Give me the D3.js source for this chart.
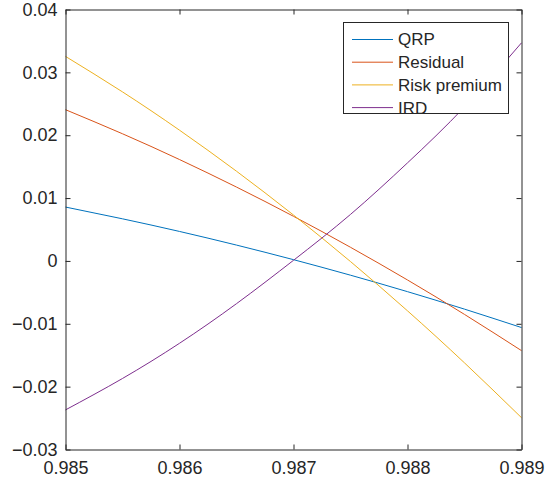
<!DOCTYPE html>
<html>
<head>
<meta charset="utf-8">
<script src="https://cdn.jsdelivr.net/npm/d3@7"></script>
<style>
  html, body { margin: 0; padding: 0; background: #fff; }
  svg text { font-family: "Liberation Sans", Arial, Helvetica, sans-serif; fill: #262626; }
</style>
</head>
<body>
<svg id="chart" width="552" height="484"></svg>
<script>
const xValues = [0.985, 0.9855, 0.986, 0.9865, 0.987, 0.9875, 0.988, 0.9885, 0.989];
const qrp = [0.00857, 0.0067, 0.00469, 0.00252, 0.0002, -0.00227, -0.00489, -0.00767, -0.0106];
const residual = [0.02406, 0.02023, 0.01613, 0.01175, 0.0071, 0.00217, -0.00303, -0.00851, -0.01427];
const riskPremium = [0.03254, 0.02689, 0.0208, 0.01427, 0.0073, -0.0001, -0.00794, -0.01622, -0.02494];
const ird = [-0.0237, -0.0187, -0.0131, -0.0068, 0.0001, 0.0074, 0.0156, 0.0245, 0.0347];
const seriesNames = ["QRP", "Residual", "Risk premium", "IRD"];
const seriesColors = ["#0072BD", "#D95319", "#EDB120", "#7E2F8E"];
const xTicks = [0.985, 0.986, 0.987, 0.988, 0.989];
const yTicks = [-0.03, -0.02, -0.01, 0, 0.01, 0.02, 0.03, 0.04];

const allSeries = [qrp, residual, riskPremium, ird];

const svg = d3.select("#chart");
const pLeft = 65.5, pRight = 521.5, pTop = 9.5, pBottom = 449.5;

const x = d3.scaleLinear().domain([0.985, 0.989]).range([pLeft, pRight]);
const y = d3.scaleLinear().domain([-0.03, 0.04]).range([pBottom, pTop]);

const axisColor = "#262626";
const fmtY = v => v === 0 ? "0" : d3.format(".2f")(v);
const fmtX = d3.format(".3f");

const line = d3.line()
  .x((d, i) => x(xValues[i]))
  .y(d => y(d))
  .curve(d3.curveNatural);

const g = svg.append("g");
allSeries.forEach((s, k) => {
  g.append("path")
    .datum(s)
    .attr("d", line)
    .attr("fill", "none")
    .attr("stroke", seriesColors[k])
    .attr("stroke-width", 1);
});

const tickLen = 5;
const axisB = d3.axisBottom(x).tickValues(xTicks).tickFormat(fmtX).tickSizeInner(-tickLen).tickSizeOuter(0).tickPadding(12);
const axisL = d3.axisLeft(y).tickValues(yTicks).tickFormat(fmtY).tickSizeInner(-tickLen).tickSizeOuter(0).tickPadding(8);
const axisT = d3.axisTop(x).tickValues(xTicks).tickFormat("").tickSizeInner(-tickLen).tickSizeOuter(0);
const axisR = d3.axisRight(y).tickValues(yTicks).tickFormat("").tickSizeInner(-tickLen).tickSizeOuter(0);

function styleAxis(sel) {
  sel.select(".domain").attr("stroke", axisColor).attr("stroke-width", 1);
  sel.selectAll(".tick line").attr("stroke", axisColor).attr("stroke-width", 1);
  sel.selectAll(".tick text").attr("fill", axisColor).style("font-size", "18px")
    .style("font-family", "'Liberation Sans', Arial, Helvetica, sans-serif");
}

svg.append("g").attr("transform", `translate(0,${pBottom})`).call(axisB).call(styleAxis);
svg.append("g").attr("transform", `translate(${pLeft},0)`).call(axisL).call(styleAxis);
svg.append("g").attr("transform", `translate(0,${pTop})`).call(axisT).call(styleAxis);
svg.append("g").attr("transform", `translate(${pRight},0)`).call(axisR).call(styleAxis);

const lg = svg.append("g");
const lx = 343.5, ly = 22.5, lw = 165, lh = 91;
lg.append("rect").attr("x", lx).attr("y", ly).attr("width", lw).attr("height", lh)
  .attr("fill", "#fff").attr("stroke", axisColor).attr("stroke-width", 1);
seriesNames.forEach((name, k) => {
  const cy = 39.5 + k * 22.7;
  lg.append("line").attr("x1", 352).attr("x2", 393).attr("y1", cy).attr("y2", cy)
    .attr("stroke", seriesColors[k]).attr("stroke-width", 1);
  lg.append("text").attr("x", 398).attr("y", cy).attr("dy", "0.35em")
    .style("font-size", "17px").text(name);
});
</script>
</body>
</html>
